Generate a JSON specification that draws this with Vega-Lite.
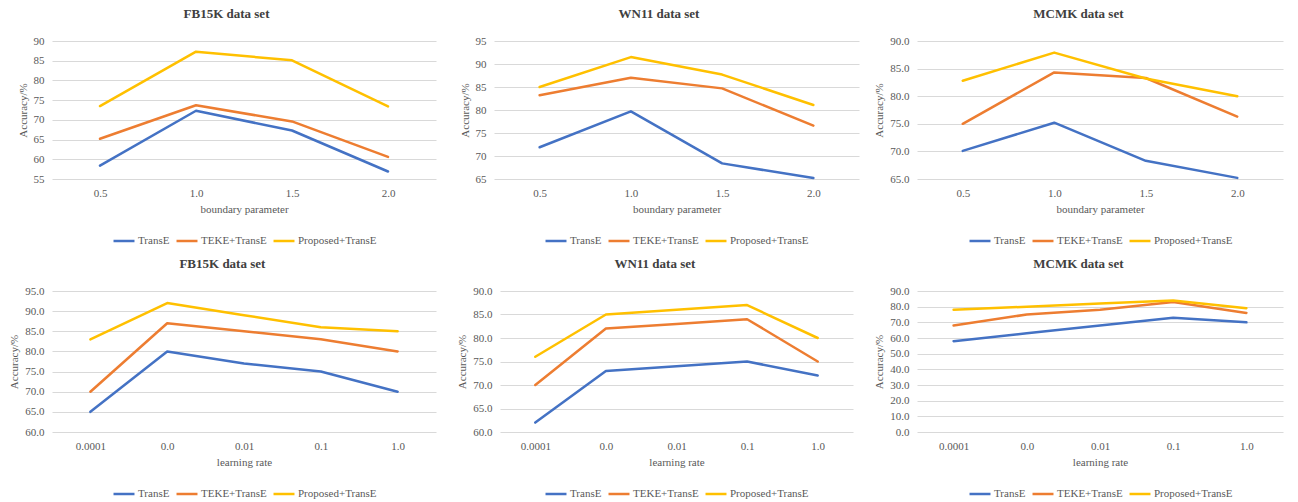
{
  "$schema": "https://vega.github.io/schema/vega-lite/v6.json",
  "padding": {"left": 8, "top": 8, "right": 5, "bottom": 2},
  "background": "white",
  "datasets": {
    "p1": [
      {"x": "0.5", "series": "TransE", "acc": 58.4}, {"x": "1.0", "series": "TransE", "acc": 72.3}, {"x": "1.5", "series": "TransE", "acc": 67.3}, {"x": "2.0", "series": "TransE", "acc": 56.9},
      {"x": "0.5", "series": "TEKE+TransE", "acc": 65.2}, {"x": "1.0", "series": "TEKE+TransE", "acc": 73.7}, {"x": "1.5", "series": "TEKE+TransE", "acc": 69.6}, {"x": "2.0", "series": "TEKE+TransE", "acc": 60.6},
      {"x": "0.5", "series": "Proposed+TransE", "acc": 73.5}, {"x": "1.0", "series": "Proposed+TransE", "acc": 87.3}, {"x": "1.5", "series": "Proposed+TransE", "acc": 85.1}, {"x": "2.0", "series": "Proposed+TransE", "acc": 73.4}
    ],
    "p2": [
      {"x": "0.5", "series": "TransE", "acc": 71.9}, {"x": "1.0", "series": "TransE", "acc": 79.7}, {"x": "1.5", "series": "TransE", "acc": 68.4}, {"x": "2.0", "series": "TransE", "acc": 65.2},
      {"x": "0.5", "series": "TEKE+TransE", "acc": 83.2}, {"x": "1.0", "series": "TEKE+TransE", "acc": 87.0}, {"x": "1.5", "series": "TEKE+TransE", "acc": 84.7}, {"x": "2.0", "series": "TEKE+TransE", "acc": 76.6},
      {"x": "0.5", "series": "Proposed+TransE", "acc": 85.0}, {"x": "1.0", "series": "Proposed+TransE", "acc": 91.5}, {"x": "1.5", "series": "Proposed+TransE", "acc": 87.7}, {"x": "2.0", "series": "Proposed+TransE", "acc": 81.1}
    ],
    "p3": [
      {"x": "0.5", "series": "TransE", "acc": 70.1}, {"x": "1.0", "series": "TransE", "acc": 75.2}, {"x": "1.5", "series": "TransE", "acc": 68.3}, {"x": "2.0", "series": "TransE", "acc": 65.2},
      {"x": "0.5", "series": "TEKE+TransE", "acc": 75.0}, {"x": "1.0", "series": "TEKE+TransE", "acc": 84.3}, {"x": "1.5", "series": "TEKE+TransE", "acc": 83.3}, {"x": "2.0", "series": "TEKE+TransE", "acc": 76.3},
      {"x": "0.5", "series": "Proposed+TransE", "acc": 82.8}, {"x": "1.0", "series": "Proposed+TransE", "acc": 87.9}, {"x": "1.5", "series": "Proposed+TransE", "acc": 83.2}, {"x": "2.0", "series": "Proposed+TransE", "acc": 80.0}
    ],
    "p4": [
      {"x": "0.0001", "series": "TransE", "acc": 65}, {"x": "0.0", "series": "TransE", "acc": 80}, {"x": "0.01", "series": "TransE", "acc": 77}, {"x": "0.1", "series": "TransE", "acc": 75}, {"x": "1.0", "series": "TransE", "acc": 70},
      {"x": "0.0001", "series": "TEKE+TransE", "acc": 70}, {"x": "0.0", "series": "TEKE+TransE", "acc": 87}, {"x": "0.01", "series": "TEKE+TransE", "acc": 85}, {"x": "0.1", "series": "TEKE+TransE", "acc": 83}, {"x": "1.0", "series": "TEKE+TransE", "acc": 80},
      {"x": "0.0001", "series": "Proposed+TransE", "acc": 83}, {"x": "0.0", "series": "Proposed+TransE", "acc": 92}, {"x": "0.01", "series": "Proposed+TransE", "acc": 89}, {"x": "0.1", "series": "Proposed+TransE", "acc": 86}, {"x": "1.0", "series": "Proposed+TransE", "acc": 85}
    ],
    "p5": [
      {"x": "0.0001", "series": "TransE", "acc": 62}, {"x": "0.0", "series": "TransE", "acc": 73}, {"x": "0.01", "series": "TransE", "acc": 74}, {"x": "0.1", "series": "TransE", "acc": 75}, {"x": "1.0", "series": "TransE", "acc": 72},
      {"x": "0.0001", "series": "TEKE+TransE", "acc": 70}, {"x": "0.0", "series": "TEKE+TransE", "acc": 82}, {"x": "0.01", "series": "TEKE+TransE", "acc": 83}, {"x": "0.1", "series": "TEKE+TransE", "acc": 84}, {"x": "1.0", "series": "TEKE+TransE", "acc": 75},
      {"x": "0.0001", "series": "Proposed+TransE", "acc": 76}, {"x": "0.0", "series": "Proposed+TransE", "acc": 85}, {"x": "0.01", "series": "Proposed+TransE", "acc": 86}, {"x": "0.1", "series": "Proposed+TransE", "acc": 87}, {"x": "1.0", "series": "Proposed+TransE", "acc": 80}
    ],
    "p6": [
      {"x": "0.0001", "series": "TransE", "acc": 58}, {"x": "0.0", "series": "TransE", "acc": 63}, {"x": "0.01", "series": "TransE", "acc": 68}, {"x": "0.1", "series": "TransE", "acc": 73}, {"x": "1.0", "series": "TransE", "acc": 70},
      {"x": "0.0001", "series": "TEKE+TransE", "acc": 68}, {"x": "0.0", "series": "TEKE+TransE", "acc": 75}, {"x": "0.01", "series": "TEKE+TransE", "acc": 78}, {"x": "0.1", "series": "TEKE+TransE", "acc": 83}, {"x": "1.0", "series": "TEKE+TransE", "acc": 76},
      {"x": "0.0001", "series": "Proposed+TransE", "acc": 78}, {"x": "0.0", "series": "Proposed+TransE", "acc": 80}, {"x": "0.01", "series": "Proposed+TransE", "acc": 82}, {"x": "0.1", "series": "Proposed+TransE", "acc": 84}, {"x": "1.0", "series": "Proposed+TransE", "acc": 79}
    ]
  },
  "resolve": {"legend": {"color": "independent"}, "scale": {"x": "independent", "y": "independent"}},
  "spacing": 12,
  "bounds": "full",
  "vconcat": [
    {
      "hconcat": [
        {
          "title": "FB15K data set",
          "width": 384, "height": 138,
          "data": {"name": "p1"},
          "mark": {"type": "line", "strokeWidth": 2.5, "strokeJoin": "round", "strokeCap": "round"},
          "encoding": {
            "x": {"field": "x", "type": "ordinal", "sort": ["0.5", "1.0", "1.5", "2.0"], "axis": {"title": "boundary parameter"}},
            "y": {"field": "acc", "type": "quantitative", "scale": {"domain": [55, 90], "nice": false, "zero": false}, "axis": {"title": "Accuracy/%", "values": [55, 60, 65, 70, 75, 80, 85, 90], "format": "d"}},
            "color": {"field": "series", "type": "nominal", "sort": ["TransE", "TEKE+TransE", "Proposed+TransE"], "scale": {"domain": ["TransE", "TEKE+TransE", "Proposed+TransE"], "range": ["#4472C4", "#ED7D31", "#FFC000"]}}
          }
        },
        {
          "title": "WN11 data set",
          "width": 365, "height": 138,
          "data": {"name": "p2"},
          "mark": {"type": "line", "strokeWidth": 2.5, "strokeJoin": "round", "strokeCap": "round"},
          "encoding": {
            "x": {"field": "x", "type": "ordinal", "sort": ["0.5", "1.0", "1.5", "2.0"], "axis": {"title": "boundary parameter"}},
            "y": {"field": "acc", "type": "quantitative", "scale": {"domain": [65, 95], "nice": false, "zero": false}, "axis": {"title": "Accuracy/%", "values": [65, 70, 75, 80, 85, 90, 95], "format": "d"}},
            "color": {"field": "series", "type": "nominal", "sort": ["TransE", "TEKE+TransE", "Proposed+TransE"], "scale": {"domain": ["TransE", "TEKE+TransE", "Proposed+TransE"], "range": ["#4472C4", "#ED7D31", "#FFC000"]}}
          }
        },
        {
          "title": "MCMK data set",
          "width": 366, "height": 138,
          "data": {"name": "p3"},
          "mark": {"type": "line", "strokeWidth": 2.5, "strokeJoin": "round", "strokeCap": "round"},
          "encoding": {
            "x": {"field": "x", "type": "ordinal", "sort": ["0.5", "1.0", "1.5", "2.0"], "axis": {"title": "boundary parameter"}},
            "y": {"field": "acc", "type": "quantitative", "scale": {"domain": [65, 90], "nice": false, "zero": false}, "axis": {"title": "Accuracy/%", "values": [65, 70, 75, 80, 85, 90], "format": ".1f"}},
            "color": {"field": "series", "type": "nominal", "sort": ["TransE", "TEKE+TransE", "Proposed+TransE"], "scale": {"domain": ["TransE", "TEKE+TransE", "Proposed+TransE"], "range": ["#4472C4", "#ED7D31", "#FFC000"]}}
          }
        }
      ],
      "spacing": 58,
      "bounds": "flush",
      "resolve": {"legend": {"color": "independent"}, "scale": {"x": "independent", "y": "independent"}}
    },
    {
      "hconcat": [
        {
          "title": "FB15K data set",
          "width": 384, "height": 141,
          "data": {"name": "p4"},
          "mark": {"type": "line", "strokeWidth": 2.5, "strokeJoin": "round", "strokeCap": "round"},
          "encoding": {
            "x": {"field": "x", "type": "ordinal", "sort": ["0.0001", "0.0", "0.01", "0.1", "1.0"], "axis": {"title": "learning rate"}},
            "y": {"field": "acc", "type": "quantitative", "scale": {"domain": [60, 95], "nice": false, "zero": false}, "axis": {"title": "Accuracy/%", "values": [60, 65, 70, 75, 80, 85, 90, 95], "format": ".1f"}},
            "color": {"field": "series", "type": "nominal", "sort": ["TransE", "TEKE+TransE", "Proposed+TransE"], "scale": {"domain": ["TransE", "TEKE+TransE", "Proposed+TransE"], "range": ["#4472C4", "#ED7D31", "#FFC000"]}}
          }
        },
        {
          "title": "WN11 data set",
          "width": 353, "height": 141,
          "data": {"name": "p5"},
          "mark": {"type": "line", "strokeWidth": 2.5, "strokeJoin": "round", "strokeCap": "round"},
          "encoding": {
            "x": {"field": "x", "type": "ordinal", "sort": ["0.0001", "0.0", "0.01", "0.1", "1.0"], "axis": {"title": "learning rate"}},
            "y": {"field": "acc", "type": "quantitative", "scale": {"domain": [60, 90], "nice": false, "zero": false}, "axis": {"title": "Accuracy/%", "values": [60, 65, 70, 75, 80, 85, 90], "format": ".1f"}},
            "color": {"field": "series", "type": "nominal", "sort": ["TransE", "TEKE+TransE", "Proposed+TransE"], "scale": {"domain": ["TransE", "TEKE+TransE", "Proposed+TransE"], "range": ["#4472C4", "#ED7D31", "#FFC000"]}}
          }
        },
        {
          "title": "MCMK data set",
          "width": 366, "height": 141,
          "data": {"name": "p6"},
          "mark": {"type": "line", "strokeWidth": 2.5, "strokeJoin": "round", "strokeCap": "round"},
          "encoding": {
            "x": {"field": "x", "type": "ordinal", "sort": ["0.0001", "0.0", "0.01", "0.1", "1.0"], "axis": {"title": "learning rate"}},
            "y": {"field": "acc", "type": "quantitative", "scale": {"domain": [0, 90], "nice": false, "zero": true}, "axis": {"title": "Accuracy/%", "values": [0, 10, 20, 30, 40, 50, 60, 70, 80, 90], "format": ".1f"}},
            "color": {"field": "series", "type": "nominal", "sort": ["TransE", "TEKE+TransE", "Proposed+TransE"], "scale": {"domain": ["TransE", "TEKE+TransE", "Proposed+TransE"], "range": ["#4472C4", "#ED7D31", "#FFC000"]}}
          }
        }
      ],
      "spacing": 64,
      "bounds": "flush",
      "resolve": {"legend": {"color": "independent"}, "scale": {"x": "independent", "y": "independent"}}
    }
  ],
  "config": {
    "font": "Liberation Serif",
    "view": {"stroke": null},
    "axis": {
      "labelFont": "Liberation Serif", "labelFontSize": 11, "labelColor": "#595959",
      "titleFont": "Liberation Serif", "titleFontSize": 11, "titleFontWeight": "normal", "titleColor": "#595959",
      "domain": false, "ticks": false, "tickSize": 0
    },
    "axisX": {"grid": false, "labelPadding": 8, "titlePadding": 5, "labelAngle": 0},
    "axisY": {"grid": true, "gridColor": "#d9d9d9", "gridWidth": 1, "labelPadding": 8, "titlePadding": 5},
    "title": {"font": "Liberation Serif", "fontSize": 13, "fontWeight": "bold", "color": "#404040", "anchor": "middle", "frame": "bounds", "offset": 14},
    "legend": {
      "orient": "bottom", "direction": "horizontal", "title": null,
      "symbolType": "stroke", "symbolStrokeWidth": 2.5, "symbolSize": 440,
      "labelFont": "Liberation Serif", "labelFontSize": 11, "labelColor": "#595959",
      "labelOffset": 2, "columnPadding": 1, "offset": 15,
      "layout": {"bottom": {"anchor": "middle", "bounds": "full"}}
    }
  }
}
